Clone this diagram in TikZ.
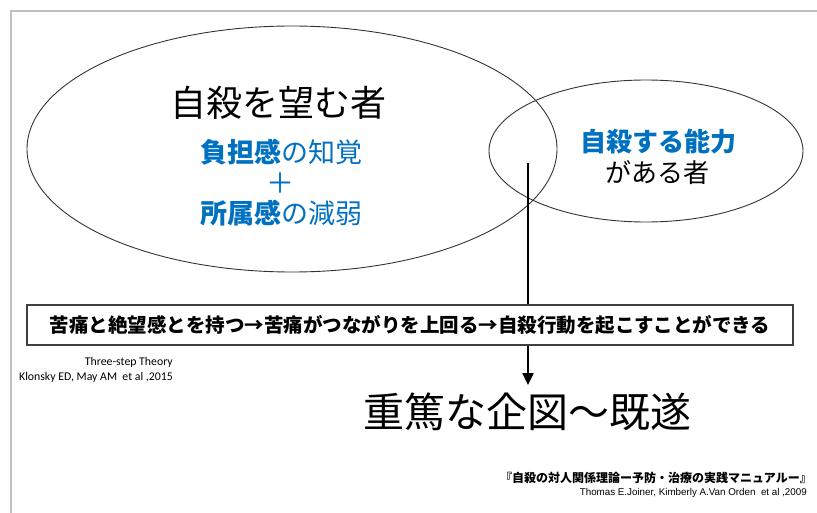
\documentclass[tikz,border=0pt]{standalone}
\usepackage{fontspec}
\usetikzlibrary{shapes.geometric,arrows.meta}
\newfontfamily\jpfont{Noto Sans CJK JP}
\newfontfamily\calfont{Carlito}
\newfontfamily\arifont{Liberation Sans}
\definecolor{jblue}{RGB}{0,112,192}
\definecolor{framegray}{RGB}{192,192,192}
\begin{document}
\begin{tikzpicture}[x=1pt,y=-1pt,
  oval/.style={ellipse, draw=black!80, line width=0.9pt, inner sep=0pt},
  txt/.style={inner sep=0pt, font=\jpfont},
  ref/.style={inner sep=0pt, align=right}]
\useasboundingbox (0,0) rectangle (817,513);
% frame
\draw[framegray, line width=2pt] (817,11) -- (11,11) -- (11,513);
% ellipses
\node[oval, minimum width=530pt, minimum height=246pt] (want) at (292,149) {};
\node[oval, minimum width=314pt, minimum height=142pt] (able) at (646,151) {};
% texts in left ellipse
\node[txt, font=\jpfont\fontsize{36}{40}\selectfont] (t1) at (278,103) {自殺を望む者};
\node[txt, text=jblue, font=\jpfont\fontsize{27}{30}\selectfont] (t2) at (281,152) {\bfseries 負担感\mdseries の知覚};
\node[txt, text=jblue, font=\jpfont\fontsize{28}{30}\selectfont] (t3) at (280,183) {＋};
\node[txt, text=jblue, font=\jpfont\fontsize{27}{30}\selectfont] (t4) at (281,213) {\bfseries 所属感\mdseries の減弱};
% texts in right ellipse
\node[txt, text=jblue, font=\jpfont\bfseries\fontsize{26}{30}\selectfont] (r1) at (658,142) {自殺する能力};
\node[txt, font=\jpfont\fontsize{26}{30}\selectfont] (r2) at (657,173) {がある者};
% arrow
\node[txt, font=\jpfont\fontsize{41}{44}\selectfont] (result) at (527,412) {重篤な企図～既遂};
\coordinate (astart) at (528,163);
\coordinate (aend) at (528,385);
\draw[line width=2.4pt, -{Triangle[length=12pt,width=11pt]}] (astart) -- (aend);
% box
\node[draw=black!75, line width=1.2pt, fill=white, minimum width=766pt, minimum height=40pt, inner sep=0pt,
  font=\jpfont\bfseries\fontsize{19.5}{22}\selectfont] (steps) at (410,325)
  {苦痛と絶望感とを持つ→苦痛がつながりを上回る→自殺行動を起こすことができる};
% references
\node[ref, anchor=east, font=\calfont\fontsize{11.8}{14}\selectfont] (th) at (173,362) {Three-step Theory};
\node[ref, anchor=east, font=\calfont\fontsize{11.8}{14}\selectfont] (kl) at (173,377) {Klonsky ED, May AM\ \ et al ,2015};
\node[ref, anchor=east, font=\jpfont\bfseries\fontsize{12}{14}\selectfont] (bk) at (812,478) {『自殺の対人関係理論ー予防・治療の実践マニュアルー』};
\node[ref, anchor=east, font=\arifont\fontsize{9.8}{12}\selectfont] (au) at (807,493) {Thomas E.Joiner, Kimberly A.Van Orden\ \ et al ,2009};
\end{tikzpicture}
\end{document}
